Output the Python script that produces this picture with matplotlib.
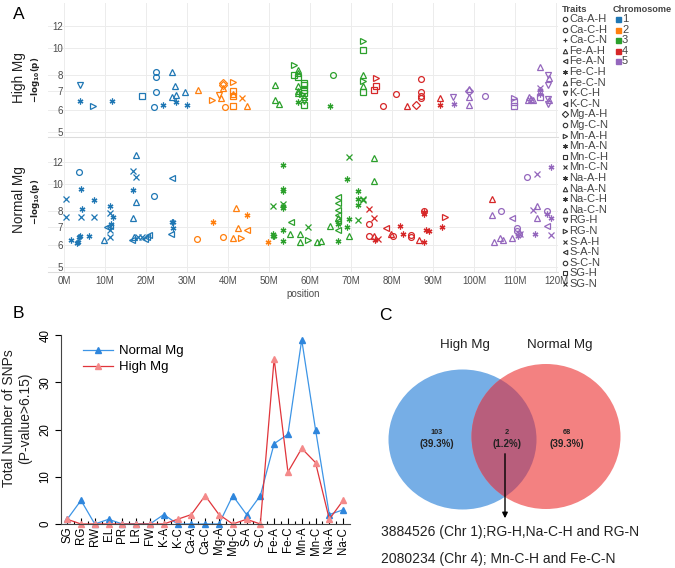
import matplotlib
matplotlib.use("Agg")
from matplotlib import pyplot as plt
from matplotlib.patches import Ellipse
from matplotlib.ticker import NullLocator, FixedLocator, FixedFormatter
import numpy as np

plt.rcParams['font.family'] = ['Liberation Sans', 'DejaVu Sans']

# ---- Panel A data: GWAS hits (position in Mb, -log10(p), trait, chromosome)
hi_pos = [3.9, 3.9, 7.0, 11.6, 19.0, 22.4, 22.4, 22.4, 21.9, 24.2, 26.3, 27.1, 26.3, 27.2, 27.2, 29.5, 29.9,
          32.8, 36.1, 37.9, 38.2, 38.7, 38.7, 38.7, 39.3, 41.3, 41.3, 41.3, 41.3, 41.3, 43.3, 44.7,
          51.4, 51.4, 52.4, 56.1, 57.1, 57.1, 56.1, 57.1, 57.1, 57.1, 57.1, 57.1, 58.6, 58.6, 58.6, 58.6,
          58.1, 58.6, 58.6, 58.6, 65.5, 64.9, 73.0, 73.0, 73.0, 73.0, 73.0, 73.0,
          76.1, 76.1, 75.7, 77.9, 80.9, 83.6, 85.8, 87.1, 87.1, 87.1, 87.1, 91.7, 91.7,
          95.0, 95.1, 98.9, 98.9, 98.9, 98.9, 102.8, 109.8, 109.8, 109.8, 113.5, 113.9, 114.5, 113.2,
          116.0, 116.1, 116.1, 116.1, 116.1, 118.0, 118.4, 118.0, 118.0, 118.4, 118.0]
hi_logp = [7.35, 6.45, 6.2, 6.45, 6.75, 8.2, 7.85, 6.95, 6.15, 6.25, 8.2, 7.3, 6.7, 6.8, 6.4, 6.95, 6.25,
           7.05, 6.5, 6.8, 6.6, 7.5, 7.35, 7.2, 6.15, 7.55, 7.0, 6.85, 6.75, 6.2, 6.6, 6.2,
           7.35, 6.5, 6.3, 8.7, 8.35, 8.15, 8.0, 7.9, 7.3, 7.0, 6.9, 6.4, 7.5, 7.35, 7.05, 6.9,
           6.85, 6.7, 6.45, 6.25, 8.0, 6.2, 10.6, 9.8, 8.0, 7.6, 7.3, 6.95,
           7.8, 7.3, 7.1, 6.2, 6.85, 6.2, 6.25, 7.75, 6.95, 6.75, 6.6, 6.6, 6.25,
           6.7, 6.3, 7.15, 7.0, 6.65, 6.25, 6.75, 6.6, 6.4, 6.2, 6.7, 6.55, 6.5, 6.5,
           8.55, 7.2, 7.05, 6.85, 6.65, 8.0, 7.8, 7.35, 6.55, 6.5, 6.3]
hi_trait = ['K-C-H', 'Na-C-H', 'Mn-A-H', 'Na-C-H', 'Mn-C-H', 'Ca-A-H', 'Ca-C-H', 'Ca-A-H', 'Ca-C-H',
            'Fe-C-H', 'Fe-A-H', 'Fe-A-H', 'Fe-A-H', 'Fe-A-H', 'Fe-C-H', 'Fe-A-H', 'Fe-C-H',
            'Fe-A-H', 'Mn-A-H', 'K-C-H', 'Fe-A-H', 'Mg-A-H', 'Mg-A-H', 'Fe-A-H', 'Ca-C-H', 'Mn-A-H',
            'Mn-C-H', 'Fe-A-H', 'Mn-C-H', 'Mn-C-H', 'S-A-H', 'Fe-A-H',
            'Fe-A-H', 'Fe-A-H', 'Fe-A-H', 'Mn-A-H', 'Fe-A-H', 'Fe-A-H', 'Mn-C-H', 'Mn-C-H', 'Fe-A-H',
            'Fe-A-H', 'Fe-A-H', 'Na-A-H', 'Mn-C-H', 'Mn-C-H', 'Mn-C-H', 'Mn-C-H',
            'Mn-A-H', 'Fe-A-H', 'RG-H', 'Mn-C-H', 'Ca-A-H', 'Na-C-H', 'Mn-A-H', 'Mn-C-H', 'Fe-A-H',
            'Mn-A-H', 'Fe-A-H', 'Mn-C-H',
            'Mn-A-H', 'Mn-C-H', 'Mn-C-H', 'Ca-C-H', 'Ca-C-H', 'Fe-A-H', 'Mg-A-H', 'Ca-A-H', 'Ca-A-H',
            'Ca-C-H', 'Ca-C-H', 'Fe-A-H', 'Fe-C-H',
            'K-C-H', 'Fe-C-H', 'Fe-A-H', 'Mg-A-H', 'Fe-A-H', 'Fe-A-H', 'Ca-C-H', 'Mn-A-H', 'Mn-C-H',
            'Mn-C-H', 'Fe-A-H', 'Fe-A-H', 'Fe-A-H', 'Fe-A-H',
            'Fe-A-H', 'S-A-H', 'Fe-C-H', 'Fe-C-H', 'Mn-C-H', 'K-C-H', 'Fe-A-H', 'K-C-H', 'K-C-H',
            'Fe-A-H', 'K-C-H']
hi_chr = [1] * 17 + [2] * 15 + [3] * 28 + [4] * 13 + [5] * 25

no_pos = [0.5, 0.5, 3.6, 4.1, 4.5, 4.1, 1.7, 3.5, 3.7, 4.0, 3.2, 6.1, 7.4, 7.4, 9.8, 11.2, 11.2, 11.2,
          11.9, 10.6, 11.2, 11.5, 11.2, 16.9, 16.9, 17.5, 17.5, 17.5, 16.9, 16.5, 17.1, 18.0, 19.0,
          19.8, 20.2, 20.7, 22.0, 26.3, 26.3, 26.6, 26.7, 26.0,
          32.5, 36.4, 38.8, 41.3, 42.0, 42.5, 43.1, 44.6, 44.7, 49.7,
          50.9, 51.0, 51.0, 51.2, 53.3, 53.3, 53.3, 53.3, 53.3, 53.3, 53.3, 53.3, 55.3, 55.1, 57.6,
          57.6, 59.4, 59.4, 61.8, 62.6, 64.9, 66.9, 66.9, 66.9, 66.9, 66.9, 66.9, 66.9, 66.9, 66.9,
          69.0, 69.6, 69.6, 69.0, 69.6, 71.6, 71.6, 71.6, 73.0, 73.0, 71.6,
          75.7, 75.7, 74.4, 75.7, 74.4, 74.4, 75.7, 75.9, 76.6, 78.5, 79.7, 80.3, 82.0, 82.8, 84.6,
          84.6, 86.6, 87.9, 87.9, 87.9, 87.9, 88.2, 89.0, 92.3,
          92.9, 104.3, 106.5, 104.3, 109.4, 110.5, 110.6, 111.0, 110.8, 111.2, 105.0, 106.3, 107.1,
          109.2, 113.0, 115.3, 118.8, 114.3, 115.3, 115.3, 117.7, 117.7, 118.8, 117.7, 115.0, 118.8]
no_logp = [8.83, 7.6, 11.0, 9.6, 8.1, 7.6, 6.25, 6.15, 6.4, 6.45, 6.1, 6.5, 8.7, 7.6, 6.25, 6.4, 8.3, 7.85,
           7.6, 7.0, 7.05, 7.15, 6.8, 9.5, 11.1, 10.6, 12.7, 8.6, 7.5, 6.25, 6.4, 6.4, 6.4,
           6.3, 6.4, 6.55, 9.0, 10.5, 7.3, 7.3, 6.9, 6.6,
           6.3, 7.25, 6.4, 6.35, 8.2, 6.9, 6.35, 6.8, 7.7, 6.15,
           8.3, 6.6, 6.5, 6.45, 11.7, 9.6, 9.45, 8.45, 8.3, 8.15, 6.8, 6.2, 7.25, 6.6, 6.6,
           6.15, 7.0, 6.25, 6.15, 6.2, 7.05, 8.95, 8.5, 8.05, 7.7, 7.55, 7.35, 7.15, 6.8, 6.2,
           10.4, 12.5, 7.45, 6.95, 6.45, 9.4, 8.8, 8.4, 8.8, 8.7, 7.4,
           12.4, 10.2, 8.1, 7.55, 7.15, 6.45, 6.5, 6.25, 6.3, 6.9, 6.6, 6.45, 7.05, 6.6, 6.55,
           6.4, 6.25, 6.15, 8.0, 7.9, 7.8, 6.8, 6.75, 6.95,
           7.6, 8.8, 7.95, 7.7, 7.5, 6.9, 6.75, 6.6, 6.5, 6.6, 6.15, 6.35, 6.25,
           6.35, 10.6, 10.8, 11.5, 8.05, 8.3, 7.55, 7.95, 7.8, 7.5, 7.05, 6.6, 6.55]
no_trait = ['SG-N', 'SG-N', 'S-C-N', 'Mn-A-N', 'Mn-A-N', 'Mn-C-N', 'Mn-A-N', 'Mn-A-N', 'Mn-A-N',
            'Mn-A-N', 'Mn-A-N', 'Mn-A-N', 'Mn-A-N', 'Mn-C-N', 'Na-A-N', 'Mn-C-N', 'Mn-A-N', 'Mn-C-N',
            'Mn-A-N', 'S-A-N', 'S-A-N', 'Mn-A-N', 'Mn-C-N', 'Mn-A-N', 'Mn-C-N', 'Mn-C-N', 'Fe-C-N',
            'Fe-C-N', 'Fe-C-N', 'S-A-N', 'Fe-C-N', 'Mn-C-N', 'Mn-C-N',
            'S-A-N', 'S-A-N', 'S-A-N', 'S-C-N', 'S-A-N', 'Mn-A-N', 'Mn-A-N', 'Mn-A-N', 'S-A-N',
            'Mg-C-N', 'Mn-A-N', 'Mg-C-N', 'Na-C-N', 'Na-C-N', 'Na-C-N', 'RG-N', 'S-A-N', 'Mn-A-N',
            'Mn-A-N',
            'Mn-C-N', 'Mn-A-N', 'Mn-A-N', 'Mn-A-N', 'Mn-A-N', 'Mn-A-N', 'Mn-A-N', 'Mn-C-N', 'Mn-A-N',
            'Mn-A-N', 'Mn-A-N', 'Mn-A-N', 'S-A-N', 'Na-C-N', 'Na-C-N',
            'Na-C-N', 'Mn-C-N', 'RG-N', 'Na-C-N', 'Na-C-N', 'Na-C-N', 'S-A-N', 'S-A-N', 'S-A-N',
            'S-A-N', 'Fe-C-N', 'S-A-N', 'Mn-A-N', 'S-A-N', 'Mn-A-N',
            'Mn-A-N', 'Mn-C-N', 'Mn-A-N', 'Mn-A-N', 'Na-C-N', 'Mn-A-N', 'Mn-A-N', 'Mn-A-N', 'Mn-C-N',
            'Mn-C-N', 'Mn-C-N',
            'Fe-C-N', 'Fe-C-N', 'Mn-C-N', 'Mn-C-N', 'S-C-N', 'S-C-N', 'Fe-C-N', 'Mn-A-N', 'Mn-C-N',
            'S-A-N', 'Fe-C-N', 'S-C-N', 'Mn-A-N', 'Mn-A-N', 'S-C-N',
            'S-C-N', 'Fe-C-N', 'Mn-A-N', 'S-C-N', 'Mn-A-N', 'Mn-A-N', 'Mn-A-N', 'Mn-A-N', 'Mn-A-N',
            'RG-N', 'Na-C-N', 'S-C-N', 'Na-C-N', 'S-A-N', 'S-C-N', 'S-C-N', 'S-C-N', 'Mn-A-N',
            'Mn-C-N', 'Na-C-N', 'Na-C-N', 'Na-C-N',
            'Na-C-N', 'S-C-N', 'Mn-C-N', 'Mn-A-N', 'Mn-C-N', 'Na-C-N', 'Na-C-N', 'S-C-N', 'Mn-A-N',
            'Mn-A-N', 'S-A-N', 'Mn-A-N', 'Mn-C-N']
no_chr = [1] * 42 + [2] * 10 + [3] * 43 + [4] * 24 + [5] * 26

trait_names = ['Ca-A-H', 'Ca-C-H', 'Ca-C-N', 'Fe-A-H', 'Fe-A-N', 'Fe-C-H', 'Fe-C-N', 'K-C-H', 'K-C-N',
               'Mg-A-H', 'Mg-C-N', 'Mn-A-H', 'Mn-A-N', 'Mn-C-H', 'Mn-C-N', 'Na-A-H', 'Na-A-N', 'Na-C-H',
               'Na-C-N', 'RG-H', 'RG-N', 'S-A-H', 'S-A-N', 'S-C-N', 'SG-H', 'SG-N']
ast = (6, 2, 0)
trait_markers = ['o', 'o', '+', '^', '<', ast, '^', 'v', '<', 'D', 'o', '>', ast, 's', 'x', ast, '^',
                 ast, '^', 'v', '>', 'x', '<', 'o', 's', 'x']
chrom_names = [1, 2, 3, 4, 5]
chrom_colors = ['#1f77b4', '#ff7f0e', '#2ca02c', '#d62728', '#9467bd']

# ---- Panel B data
categories = ['SG', 'RG', 'RW', 'EL', 'PR', 'LR', 'FW', 'K-A', 'K-C', 'Ca-A', 'Ca-C', 'Mg-A', 'Mg-C',
              'S-A', 'S-C', 'Fe-A', 'Fe-C', 'Mn-A', 'Mn-C', 'Na-A', 'Na-C']
normal_counts = [1, 5, 0, 1, 0, 0, 0, 2, 0, 0, 0, 0, 6, 2, 6, 17, 19, 39, 20, 2, 3]
high_counts = [1, 0, 0, 0, 0, 0, 0, 0, 1, 2, 6, 2, 0, 1, 0, 35, 11, 16, 13, 1, 5]

# ---- Panel C data
venn_sets = ['High Mg', 'Normal Mg']
venn_counts = [103, 2, 68]
venn_pcts = ['39.3%', '1.2%', '39.3%']
shared_snps = ['3884526 (Chr 1);RG-H,Na-C-H and RG-N', '2080234 (Chr 4); Mn-C-H and Fe-C-N']

W, H = 675, 568
fig = plt.figure(figsize=(W / 100, H / 100), dpi=100)
marker_of = dict(zip(trait_names, trait_markers))
color_of = dict(zip(chrom_names, chrom_colors))
grey = '#4d4d4d'


def px_axes(x0, y0, x1, y1):
    return fig.add_axes([x0 / W, 1 - y1 / H, (x1 - x0) / W, (y1 - y0) / H])


def manhattan(ax, pos, logp, traits, chroms, bottom):
    for p, v, t, c in zip(pos, logp, traits, chroms):
        ax.plot(p, v, ls='none', marker=marker_of[t], ms=4.2, mfc='none',
                mec=color_of[c], mew=0.9)
    ax.set_yscale('log')
    ax.set_xlim(-3.9, 120.5)
    ax.set_ylim(4.8, 14.5)
    ax.yaxis.set_major_locator(FixedLocator([5, 6, 7, 8, 10, 12]))
    ax.yaxis.set_major_formatter(FixedFormatter(['5', '6', '7', '8', '10', '12']))
    ax.yaxis.set_minor_locator(NullLocator())
    ax.set_xticks(np.arange(0, 121, 10))
    ax.set_xticklabels([f'{v}M' for v in range(0, 121, 10)] if bottom else [])
    ax.grid(True, color='#ececec', lw=0.7)
    ax.set_axisbelow(True)
    for s in ['top', 'left', 'right']:
        ax.spines[s].set_visible(False)
    ax.spines['bottom'].set_color('#dcdcdc')
    ax.tick_params(axis='both', length=0, labelsize=7, labelcolor=grey)
    ax.tick_params(axis='y', pad=-11)
    ax.tick_params(axis='x', pad=3)


ax_hi = px_axes(48, 3, 558, 137)
manhattan(ax_hi, hi_pos, hi_logp, hi_trait, hi_chr, False)
ax_no = px_axes(48, 139, 558, 272)
manhattan(ax_no, no_pos, no_logp, no_trait, no_chr, True)
ax_no.set_xlabel('position', fontsize=7, color=grey, labelpad=2)

fig.text(19 / W, 1 - 78 / H, 'High Mg', rotation=90, ha='center', va='center', fontsize=9.8, color='#222')
fig.text(19 / W, 1 - 200 / H, 'Normal Mg', rotation=90, ha='center', va='center', fontsize=9.8, color='#222')
for yy in [80, 202]:
    fig.text(35 / W, 1 - yy / H, r'$\mathbf{-log_{10}(p)}$', rotation=90, ha='center', va='center',
             fontsize=6.2, color='#222')

# legends of panel A drawn on an overlay in pixel coordinates
ov = fig.add_axes([0, 0, 1, 1])
ov.set_xlim(0, W)
ov.set_ylim(H, 0)
ov.axis('off')
ov.patch.set_visible(False)
ov.text(562, 9, 'Traits', fontsize=6.8, fontweight='bold', color='#444', va='center')
ov.text(613, 9, 'Chromosome', fontsize=6.6, fontweight='bold', color='#444', va='center')
for i, (t, m) in enumerate(zip(trait_names, trait_markers)):
    yy = 19 + i * 10.6
    ov.plot(564.5, yy, ls='none', marker=m, ms=3.2, mfc='none', mec='#333', mew=0.8)
    ov.text(569, yy, t, fontsize=8, color='#444', va='center')
for i, (c, col) in enumerate(zip(chrom_names, chrom_colors)):
    yy = 19 + i * 10.6
    ov.plot(617.5, yy, ls='none', marker='s', ms=3.6, color=col)
    ov.text(622, yy, str(c), fontsize=8, color='#444', va='center')

ov.text(19, 14.5, 'A', fontsize=12.5, ha='center', va='center')
ov.text(18, 313, 'B', fontsize=12.5, ha='center', va='center')
ov.text(385, 315, 'C', fontsize=12.5, ha='center', va='center')

# ---- Panel B
ax_b = px_axes(61, 335, 350, 524)
x = np.arange(len(categories))
ax_b.plot(x, normal_counts, color='#3d95e6', lw=0.9, marker='^', ms=5, mfc='#2f86dc',
          mec='#2f86dc', label='Normal Mg', clip_on=False)
ax_b.plot(x, high_counts, color='#e0353b', lw=0.9, marker='^', ms=5, mfc='#f48a8a',
          mec='#f48a8a', label='High Mg', clip_on=False)
ax_b.set_xlim(-0.45, 20.5)
ax_b.set_ylim(0, 40)
ax_b.set_xticks(x)
ax_b.set_xticks(x[:-1] + 0.5, minor=True)
ax_b.set_xticklabels(categories, rotation=90, fontsize=8.3)
ax_b.set_yticks([0, 10, 20, 30, 40])
ax_b.set_yticklabels(['0', '10', '20', '30', '40'], rotation=90, va='center', fontsize=8.3)
ax_b.tick_params(axis='x', direction='in', length=4, width=0.8, pad=2)
ax_b.tick_params(axis='x', which='minor', direction='in', length=2, width=0.8)
ax_b.tick_params(axis='y', direction='out', length=4, width=0.8, pad=3)
ax_b.spines['top'].set_visible(False)
ax_b.spines['right'].set_visible(False)
ax_b.spines['left'].set_color('#444')
ax_b.spines['bottom'].set_color('#444')
ax_b.legend(loc='upper left', bbox_to_anchor=(83 / W, 1 - 345 / H), bbox_transform=fig.transFigure,
            frameon=False, fontsize=9.5, handlelength=2.3, handletextpad=0.4, labelspacing=0.3,
            borderaxespad=0, borderpad=0)
fig.text(17 / W, 1 - 418 / H, 'Total Number of SNPs\n(P-value>6.15)', rotation=90, ha='center',
         va='center', fontsize=10, linespacing=1.25, color='#222')

# ---- Panel C (venn), axes in pixel units
ax_c = px_axes(340, 310, 675, 568)
ax_c.set_xlim(340, 675)
ax_c.set_ylim(568, 310)
ax_c.axis('off')
blue = Ellipse((462.5, 439.5), 148, 140, color='#76aee6', lw=0)
red = Ellipse((546, 436.5), 149, 145, color='#f38181', lw=0)
ax_c.add_patch(blue)
ax_c.add_patch(red)
lens = Ellipse((462.5, 439.5), 148, 140, color='#b85e7c', lw=0)
ax_c.add_patch(lens)
lens.set_clip_path(red)
ax_c.text(465, 345, venn_sets[0], ha='center', va='center', fontsize=9.6, color='#222')
ax_c.text(560, 345, venn_sets[1], ha='center', va='center', fontsize=9.6, color='#222')
for xx, n, pct in zip([436.7, 506.7, 566.7], venn_counts, venn_pcts):
    ax_c.text(xx, 433, str(n), ha='center', va='center', fontsize=5.3, fontweight='bold', color='#222')
    ax_c.text(xx, 444, f'({pct})', ha='center', va='center', fontsize=7, fontweight='bold', color='#222')
ax_c.annotate('', xy=(505, 521), xytext=(505, 451),
              arrowprops=dict(arrowstyle='-|>', color='black', lw=1, mutation_scale=8))
for i, line in enumerate(shared_snps):
    ax_c.text(381, 532 + i * 26.5, line, ha='left', va='center', fontsize=10, color='#222')

fig.savefig('out.png', dpi=100)
